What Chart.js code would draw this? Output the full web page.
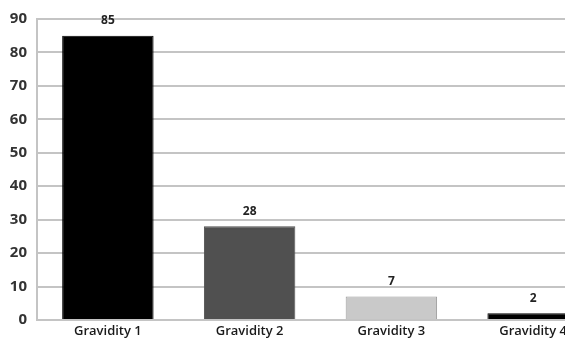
<!DOCTYPE html>
<html>
<head>
<meta charset="utf-8">
<script src="https://cdn.jsdelivr.net/npm/chart.js@4/dist/chart.umd.min.js"></script>
<style>
  html, body { margin: 0; padding: 0; background: #fff; overflow: hidden; }
  #wrap { width: 565px; height: 343px; overflow: hidden; }
</style>
</head>
<body>
<div id="wrap"><canvas id="chartGravidity" width="604" height="343"></canvas></div>
<script>
// du lieu
var categories = ['Gravidity 1', 'Gravidity 2', 'Gravidity 3', 'Gravidity 4'];
var counts = [85, 28, 7, 2];
var barColors = ['#000000', '#505050', '#c9c9c9', '#000000'];
var barBorders = ['#000000', '#505050', '#9a9a9a', '#000000'];

// ve so tren dau cot
const valueLabels = {
  id: 'valueLabels',
  afterDatasetsDraw(chart) {
    const ctx = chart.ctx;
    const meta = chart.getDatasetMeta(0);
    ctx.save();
    ctx.font = 'bold 12px "Open Sans", Lato, sans-serif';
    ctx.fillStyle = '#222';
    ctx.textAlign = 'center';
    ctx.textBaseline = 'bottom';
    meta.data.forEach((bar, i) => {
      ctx.fillText(String(counts[i]), bar.x, bar.y - 9);
    });
    ctx.restore();
  }
};

const ctx = document.getElementById('chartGravidity').getContext('2d');
new Chart(ctx, {
  type: 'bar',
  data: {
    labels: categories,
    datasets: [{
      data: counts,
      backgroundColor: barColors,
      borderColor: barBorders,
      borderWidth: 1,
      categoryPercentage: 1,
      barPercentage: 0.645
    }]
  },
  options: {
    responsive: false,
    animation: false,
    layout: { padding: { top: 18, right: 0, left: 0, bottom: 0 } },
    plugins: {
      legend: { display: false },
      tooltip: { enabled: false }
    },
    scales: {
      x: {
        grid: { display: false, drawTicks: false },
        border: { color: '#c4c4c4', width: 2 },
        ticks: {
          color: '#1a1a1a',
          font: { family: '"Open Sans", Lato, sans-serif', size: 13, weight: '600' },
          maxRotation: 0,
          padding: 3
        },
        afterFit: s => { s.height = 23; }
      },
      y: {
        min: 0,
        max: 90,
        ticks: {
          stepSize: 10,
          color: '#333',
          font: { family: '"Open Sans", Lato, sans-serif', size: 15, weight: 'bold' },
          padding: 10
        },
        grid: { color: '#c4c4c4', lineWidth: 2, drawTicks: false },
        border: { color: '#c4c4c4', width: 2 },
        afterFit: s => { s.width = 37; }
      }
    }
  },
  plugins: [valueLabels]
});
</script>
</body>
</html>
